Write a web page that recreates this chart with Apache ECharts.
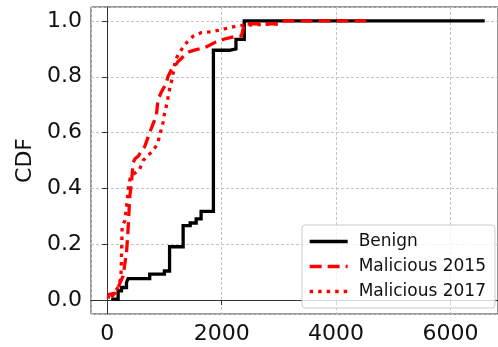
<!DOCTYPE html>
<html>
<head>
<meta charset="utf-8">
<script src="https://cdn.jsdelivr.net/npm/echarts@6/dist/echarts.min.js"></script>
<style>
  html, body { margin: 0; padding: 0; background: #fff; }
  #main { width: 498px; height: 347px; }
</style>
</head>
<body>
<div id="main"></div>
<script>
// CDF curves (x value, cumulative fraction)
const benignX = [70, 191, 250, 337, 365, 743, 1000, 1090, 1327, 1450, 1555, 1641, 1856, 2134, 2250, 2395, 6597];
const benignY = [0.003, 0.033, 0.045, 0.063, 0.077, 0.093, 0.104, 0.191, 0.267, 0.276, 0.291, 0.318, 0.895, 0.900, 0.934, 1.0, 1.0];

const mal2015X = [20, 30, 150, 200, 278, 337, 365, 395, 424, 452, 482, 540, 600, 656, 743, 800, 859, 887, 946, 1033, 1061, 1120, 1177, 1235, 1322, 1438, 1555, 1729, 1903, 2076, 2250, 2345, 2395, 3000, 3050, 4600];
const mal2015Y = [0.005, 0.02, 0.025, 0.05, 0.086, 0.17, 0.253, 0.372, 0.42, 0.49, 0.505, 0.515, 0.535, 0.55, 0.60, 0.63, 0.66, 0.717, 0.745, 0.777, 0.80, 0.824, 0.836, 0.854, 0.871, 0.89, 0.897, 0.907, 0.925, 0.937, 0.945, 0.946, 0.99, 0.99, 1.0, 1.0];

const mal2017X = [80, 140, 200, 240, 250, 262, 310, 340, 370, 400, 450, 560, 626, 700, 800, 880, 930, 975, 1003, 1040, 1090, 1120, 1160, 1190, 1230, 1322, 1400, 1500, 1640, 1850, 2076, 2250, 2400, 3050];
const mal2017Y = [0.01, 0.03, 0.05, 0.08, 0.16, 0.265, 0.285, 0.34, 0.40, 0.435, 0.45, 0.465, 0.50, 0.515, 0.535, 0.56, 0.60, 0.635, 0.67, 0.70, 0.755, 0.78, 0.82, 0.86, 0.875, 0.905, 0.925, 0.945, 0.958, 0.962, 0.973, 0.981, 0.985, 0.99];

const seriesNames = ['Benign', 'Malicious 2015', 'Malicious 2017'];

const pairs = (xs, ys) => xs.map((x, i) => [x, ys[i]]);

const chart = echarts.init(document.getElementById('main'));
const font = 'DejaVu Sans';

chart.setOption({
    animation: false,
    backgroundColor: '#fff',
    grid: {
        left: 91, top: 7, right: -2, bottom: 33,
        show: true, borderColor: '#333', borderWidth: 1, backgroundColor: 'transparent'
    },
    legend: {
        orient: 'vertical',
        left: 302, top: 225,
        padding: [8, 9, 8, 6],
        itemWidth: 38, itemHeight: 14, itemGap: 8,
        backgroundColor: 'rgba(255,255,255,0.8)',
        borderColor: '#cccccc', borderWidth: 1, borderRadius: 3,
        itemStyle: { opacity: 0 },
        lineStyle: { width: 3.3 },
        textStyle: { fontFamily: font, fontSize: 17, color: '#111', padding: [0, 0, 0, 6] },
        data: seriesNames
    },
    xAxis: {
        type: 'value',
        min: -283, max: 6829,
        splitNumber: 4,
        axisLine: { lineStyle: { color: '#333', width: 1 } },
        axisTick: { length: 5, lineStyle: { color: '#333' } },
        axisLabel: {
            fontFamily: font, fontSize: 22, color: '#111', margin: 9,
            showMinLabel: false, showMaxLabel: false,
            formatter: v => String(v)
        },
        splitLine: { show: true, lineStyle: { color: '#c4c4c4', type: [3, 2], width: 1 } }
    },
    yAxis: {
        type: 'value',
        min: -0.05, max: 1.05,
        name: 'CDF', nameLocation: 'middle', nameGap: 46,
        nameTextStyle: { fontFamily: font, fontSize: 22, color: '#111' },
        axisLine: { show: true, lineStyle: { color: '#333', width: 1 } },
        axisTick: { show: true, length: 5, lineStyle: { color: '#333' } },
        axisLabel: {
            fontFamily: font, fontSize: 22, color: '#111', margin: 9,
            showMinLabel: false, showMaxLabel: false,
            formatter: v => v.toFixed(1)
        },
        splitLine: { show: true, lineStyle: { color: '#c4c4c4', type: [3, 2], width: 1 } }
    },
    series: [
        {
            name: seriesNames[0], type: 'line', step: 'end', symbol: 'none',
            data: pairs(benignX, benignY),
            lineStyle: { color: '#000', width: 3.3, join: 'miter' },
            itemStyle: { color: '#000' }
        },
        {
            name: seriesNames[1], type: 'line', symbol: 'none',
            data: pairs(mal2015X, mal2015Y),
            lineStyle: { color: '#ff0000', width: 3.3, type: [12, 6], cap: 'butt' },
            itemStyle: { color: '#ff0000' }
        },
        {
            name: seriesNames[2], type: 'line', symbol: 'none',
            data: pairs(mal2017X, mal2017Y),
            lineStyle: { color: '#ff0000', width: 3.3, type: [3.5, 5], cap: 'butt' },
            itemStyle: { color: '#ff0000' }
        }
    ]
});
</script>
</body>
</html>
